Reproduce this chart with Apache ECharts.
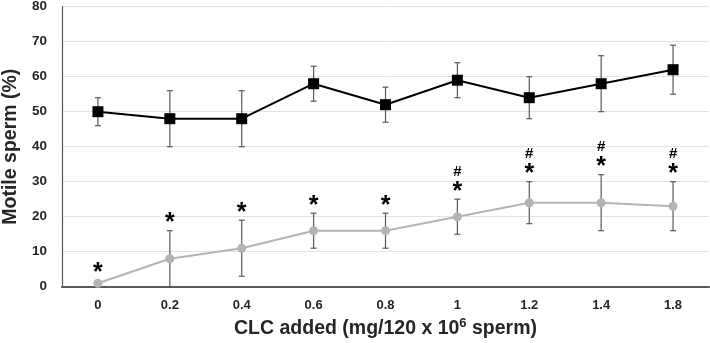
<!DOCTYPE html>
<html><head><meta charset="utf-8">
<script src="https://cdn.jsdelivr.net/npm/echarts@6/dist/echarts.min.js"></script>
<style>html,body{margin:0;padding:0;background:#fff}#c{width:710px;height:343px}</style>
</head><body><div id="c"></div>
<script>
const categories = ['0','0.2','0.4','0.6','0.8','1','1.2','1.4','1.8'];
const controlMean = [50,48,48,58,52,59,54,58,62];
const controlErr  = [4,8,8,5,5,5,6,8,7];
const clcMean = [1,8,11,16,16,20,24,24,23];
const clcErr  = [0,8,8,5,5,5,6,8,7];
const starMarks = ['*','*','*','*','*','*','*','*','*'];
const hashMarks = ['','','','','','#','#','#','#'];
const yTicks = [0,10,20,30,40,50,60,70,80];

const FONT = '"Liberation Sans", Arial, sans-serif';
const chart = echarts.init(document.getElementById('c'));

function errData(mean, err){ return mean.map((m,i)=>[i,m,err[i]]); }
function errRender(params, api){
  const i = api.value(0), m = api.value(1), e = api.value(2);
  if (!e) return null;
  const top = api.coord([i, m+e]), bot = api.coord([i, m-e]);
  const w = 3;
  const st = {stroke:'#595959', lineWidth:1.2};
  return {type:'group', children:[
    {type:'line', shape:{x1:top[0],y1:top[1],x2:bot[0],y2:bot[1]}, style:st},
    {type:'line', shape:{x1:top[0]-w,y1:top[1],x2:top[0]+w,y2:top[1]}, style:st},
    {type:'line', shape:{x1:bot[0]-w,y1:bot[1],x2:bot[0]+w,y2:bot[1]}, style:st}
  ]};
}
function annRender(params, api){
  const i = api.value(0), m = api.value(1), e = api.value(2);
  const p = api.coord([i, m+e]);
  const extra = e ? 0 : -3;
  const children = [{type:'text', x:p[0], y:p[1]+5+extra, style:{text:starMarks[i], font:'bold 25px '+FONT, fill:'#000', align:'center', verticalAlign:'bottom'}}];
  if (hashMarks[i]) children.push({type:'text', x:p[0], y:p[1]-20, style:{text:hashMarks[i], font:'bold 15px '+FONT, fill:'#000', align:'center', verticalAlign:'bottom'}});
  return {type:'group', children};
}

chart.setOption({
  animation:false,
  grid:{left:62, right:1, top:6.7, bottom:56.3, containLabel:false, outerBoundsMode:'none'},
  xAxis:{type:'category', data:categories, boundaryGap:true,
    axisLine:{lineStyle:{color:'#595959', width:2}}, axisTick:{show:false},
    axisLabel:{fontFamily:FONT, fontWeight:'bold', fontSize:13, color:'#262626', margin:12},
    name:'CLC added (mg/120 x 10{sup|6} sperm)', nameLocation:'middle', nameGap:30,
    nameTextStyle:{fontFamily:FONT, fontWeight:'bold', fontSize:19.5, color:'#262626',
      rich:{sup:{fontFamily:FONT, fontWeight:'bold', fontSize:13, color:'#262626', verticalAlign:'top', padding:[0,0,10,0]}}}
  },
  yAxis:{type:'value', min:0, max:80, interval:10,
    axisLine:{show:true, lineStyle:{color:'#595959', width:1.2}}, axisTick:{show:false},
    splitLine:{lineStyle:{color:'#e3e3e3', width:1}},
    axisLabel:{fontFamily:FONT, fontWeight:'bold', fontSize:13.5, color:'#262626', margin:15},
    name:'Motile sperm (%)', nameLocation:'middle', nameGap:38,
    nameTextStyle:{fontFamily:FONT, fontWeight:'bold', fontSize:19.5, color:'#262626'}
  },
  series:[
    {type:'custom', renderItem:errRender, data:errData(controlMean, controlErr), z:1},
    {type:'custom', renderItem:errRender, data:errData(clcMean, clcErr), z:1},
    {type:'line', data:controlMean, symbol:'rect', symbolSize:11, z:3,
      lineStyle:{color:'#000', width:2}, itemStyle:{color:'#000'}},
    {type:'line', data:clcMean, symbol:'circle', symbolSize:9, z:2,
      lineStyle:{color:'#b4b4b4', width:2}, itemStyle:{color:'#b4b4b4'}},
    {type:'custom', renderItem:annRender, data:errData(clcMean, clcErr), z:4}
  ]
});
</script></body></html>
